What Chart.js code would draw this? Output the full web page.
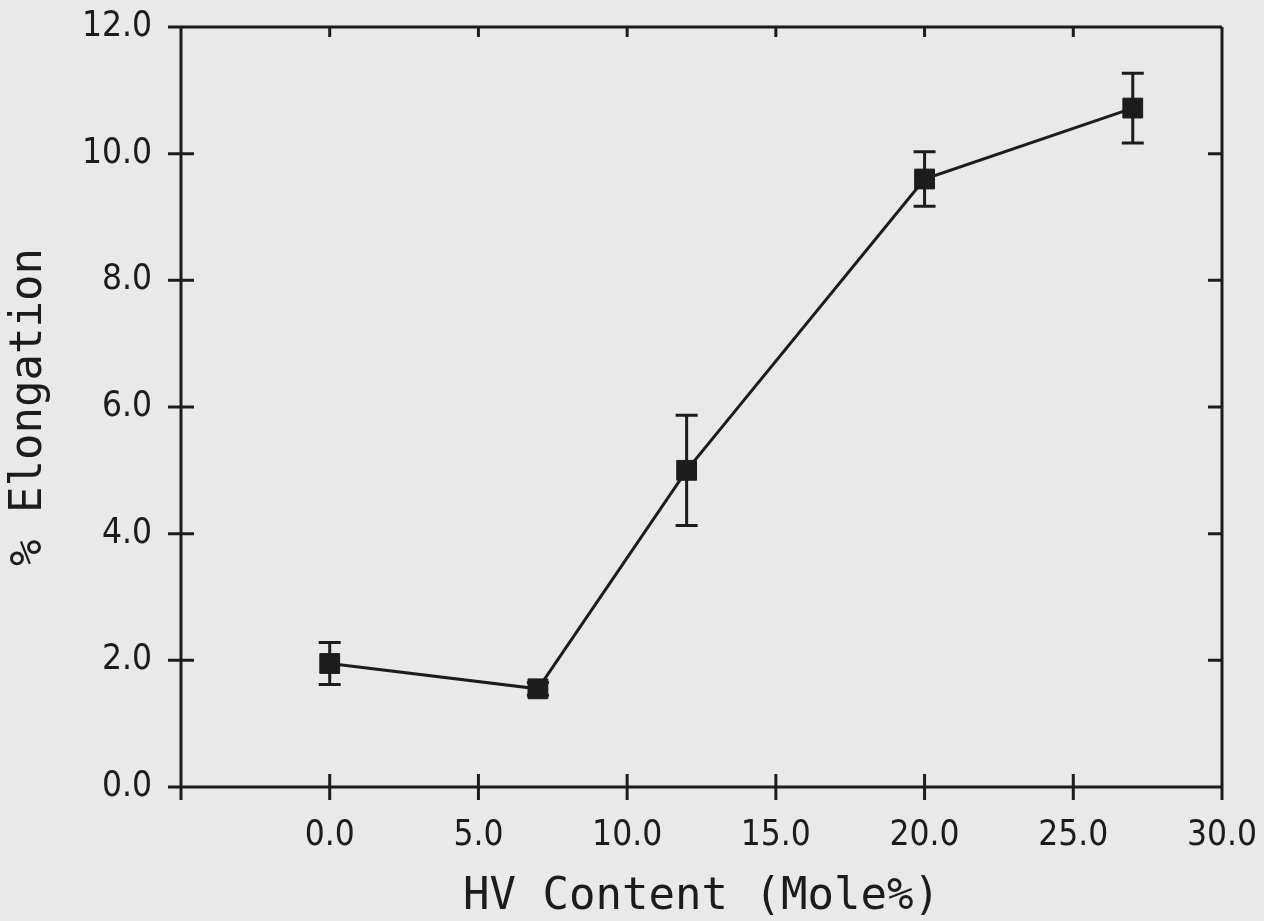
<!DOCTYPE html>
<html>
<head>
<meta charset="utf-8">
<script src="https://cdn.jsdelivr.net/npm/chart.js@4"></script>
<style>
  html, body { margin: 0; padding: 0; background: #e9e9e9; }
  canvas { display: block; }
</style>
</head>
<body>
<canvas id="grafica" width="1264" height="921"></canvas>
<script>
// datos
const hvContent = [0, 7, 12, 20, 27];
const elongation = [1.95, 1.55, 5.0, 9.6, 10.72];
const errorBars = [0.33, 0.1, 0.87, 0.43, 0.55];
const xTicks = [-5, 0, 5, 10, 15, 20, 25, 30];
const yTicks = [0, 2, 4, 6, 8, 10, 12];

const ink = "#1c1c1c";
const tickFont = { family: "'Liberation Sans Narrow', 'DejaVu Sans Condensed', 'DejaVu Sans', sans-serif", size: 35 };
const titleFont = { family: "'DejaVu Sans Mono', monospace", size: 44, lineHeight: 1.05 };

// barras de error
const errorPlugin = {
  id: "errores",
  beforeDatasetsDraw(chart) {
    const ctx = chart.ctx;
    const x = chart.scales.x, y = chart.scales.y;
    ctx.save();
    ctx.strokeStyle = ink;
    ctx.lineWidth = 3;
    hvContent.forEach((v, i) => {
      const px = x.getPixelForValue(v);
      const top = y.getPixelForValue(elongation[i] + errorBars[i]);
      const bot = y.getPixelForValue(elongation[i] - errorBars[i]);
      ctx.beginPath();
      ctx.moveTo(px, top); ctx.lineTo(px, bot);
      ctx.moveTo(px - 11, top); ctx.lineTo(px + 11, top);
      ctx.moveTo(px - 11, bot); ctx.lineTo(px + 11, bot);
      ctx.stroke();
    });
    ctx.restore();
  },
};

// marco con marcas de los ejes
const framePlugin = {
  id: "marco",
  afterDraw(chart) {
    const ctx = chart.ctx;
    const { left, right, top, bottom } = chart.chartArea;
    const x = chart.scales.x, y = chart.scales.y;
    ctx.save();
    ctx.strokeStyle = ink;
    ctx.lineWidth = 3;
    ctx.beginPath();
    ctx.moveTo(left - 13, top); ctx.lineTo(right, top);
    ctx.moveTo(left - 13, bottom); ctx.lineTo(right, bottom);
    ctx.moveTo(left, top); ctx.lineTo(left, bottom + 13);
    ctx.moveTo(right, top); ctx.lineTo(right, bottom + 13);
    xTicks.forEach((v) => {
      const px = x.getPixelForValue(v);
      ctx.moveTo(px, bottom - 13); ctx.lineTo(px, bottom + 13);
      ctx.moveTo(px, top); ctx.lineTo(px, top + 10);
    });
    yTicks.forEach((v) => {
      const py = y.getPixelForValue(v);
      ctx.moveTo(left - 13, py); ctx.lineTo(left + 13, py);
      ctx.moveTo(right - 14, py); ctx.lineTo(right, py);
    });
    ctx.stroke();
    ctx.restore();
  },
};

const ctx = document.getElementById("grafica").getContext("2d");
const grafica = new Chart(ctx, {
  type: "scatter",
  data: {
    datasets: [
      {
        label: "% Elongation",
        data: hvContent.map((v, i) => ({ x: v, y: elongation[i] })),
        showLine: true,
        borderColor: ink,
        borderWidth: 3,
        backgroundColor: ink,
        pointStyle: "rect",
        pointRadius: 14,
        pointHoverRadius: 14,
        pointBorderWidth: 1,
        pointBorderColor: ink,
        pointBackgroundColor: ink,
      },
    ],
  },
  options: {
    responsive: false,
    animation: false,
    layout: { padding: { top: 27, right: 42, left: 0, bottom: 0 } },
    plugins: { legend: { display: false }, tooltip: { enabled: false } },
    scales: {
      x: {
        type: "linear",
        min: -5,
        max: 30,
        afterFit: (s) => { s.height = 134; s.paddingLeft = 0; s.paddingRight = 0; },
        afterBuildTicks: (s) => { s.ticks = xTicks.map((v) => ({ value: v })); },
        grid: { display: false, drawTicks: false },
        border: { display: false },
        ticks: {
          padding: 28,
          color: ink,
          font: tickFont,
          maxRotation: 0,
          autoSkip: false,
          callback: (v) => (v === -5 ? "" : v.toFixed(1)),
        },
        title: {
          display: true,
          text: "HV Content (Mole%)",
          color: ink,
          font: titleFont,
          padding: { top: 0, bottom: 0 },
        },
      },
      y: {
        type: "linear",
        min: 0,
        max: 12,
        afterFit: (s) => { s.width = 181; s.paddingTop = 0; s.paddingBottom = 0; },
        afterBuildTicks: (s) => { s.ticks = yTicks.map((v) => ({ value: v })); },
        grid: { display: false, drawTicks: false },
        border: { display: false },
        ticks: {
          padding: 29,
          color: ink,
          font: tickFont,
          autoSkip: false,
          callback: (v) => v.toFixed(1),
        },
        title: {
          display: true,
          text: "% Elongation",
          color: ink,
          font: titleFont,
          padding: { top: 6, bottom: 0 },
        },
      },
    },
  },
  plugins: [errorPlugin, framePlugin],
});
</script>
</body>
</html>
